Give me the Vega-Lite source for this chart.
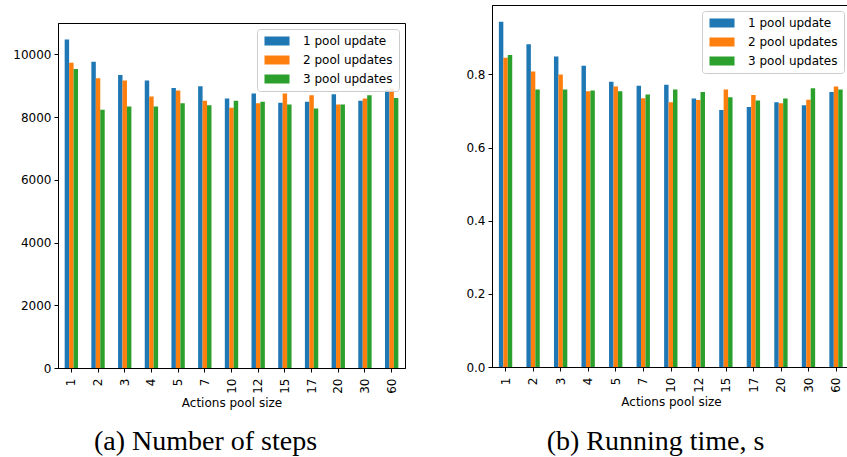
{
  "$schema": "https://vega.github.io/schema/vega-lite/v6.json",
  "padding": {"left": 5, "top": 4, "right": 0, "bottom": 0},
  "background": "white",
  "spacing": 20,
  "config": {
    "font": "DejaVu Sans",
    "view": {"stroke": "black", "strokeWidth": 1},
    "axis": {"labelFont": "DejaVu Sans", "labelFontSize": 12, "labelColor": "black", "titleFont": "DejaVu Sans", "titleFontSize": 12, "titleFontWeight": "normal", "titleColor": "black", "tickColor": "black", "domainColor": "black", "tickSize": 4, "grid": false, "labelPadding": 3},
    "legend": {"orient": "top-right", "offset": 6, "fillColor": "rgba(255,255,255,0.85)", "strokeColor": "#cccccc", "cornerRadius": 3, "padding": 6, "labelFont": "DejaVu Sans", "labelFontSize": 12, "labelColor": "black", "symbolType": "M-2.78,-1H2.78V1H-2.78Z", "symbolSize": 81, "symbolStrokeWidth": 0, "symbolOffset": 8, "labelOffset": 20, "rowPadding": 7},
    "title": {"font": "Liberation Serif", "fontSize": 28, "fontWeight": "normal", "color": "black"}
  },
  "datasets": {
    "d": [
      {"size": "1", "series": "1 pool update", "steps": 10470, "time": 0.944},
      {"size": "1", "series": "2 pool updates", "steps": 9730, "time": 0.846},
      {"size": "1", "series": "3 pool updates", "steps": 9530, "time": 0.853},
      {"size": "2", "series": "1 pool update", "steps": 9765, "time": 0.883},
      {"size": "2", "series": "2 pool updates", "steps": 9240, "time": 0.808},
      {"size": "2", "series": "3 pool updates", "steps": 8235, "time": 0.759},
      {"size": "3", "series": "1 pool update", "steps": 9345, "time": 0.849},
      {"size": "3", "series": "2 pool updates", "steps": 9165, "time": 0.800},
      {"size": "3", "series": "3 pool updates", "steps": 8340, "time": 0.759},
      {"size": "4", "series": "1 pool update", "steps": 9165, "time": 0.824},
      {"size": "4", "series": "2 pool updates", "steps": 8660, "time": 0.754},
      {"size": "4", "series": "3 pool updates", "steps": 8340, "time": 0.756},
      {"size": "5", "series": "1 pool update", "steps": 8930, "time": 0.780},
      {"size": "5", "series": "2 pool updates", "steps": 8845, "time": 0.767},
      {"size": "5", "series": "3 pool updates", "steps": 8440, "time": 0.754},
      {"size": "7", "series": "1 pool update", "steps": 8985, "time": 0.769},
      {"size": "7", "series": "2 pool updates", "steps": 8525, "time": 0.735},
      {"size": "7", "series": "3 pool updates", "steps": 8375, "time": 0.745},
      {"size": "10", "series": "1 pool update", "steps": 8590, "time": 0.772},
      {"size": "10", "series": "2 pool updates", "steps": 8300, "time": 0.724},
      {"size": "10", "series": "3 pool updates", "steps": 8525, "time": 0.759},
      {"size": "12", "series": "1 pool update", "steps": 8750, "time": 0.734},
      {"size": "12", "series": "2 pool updates", "steps": 8440, "time": 0.730},
      {"size": "12", "series": "3 pool updates", "steps": 8490, "time": 0.752},
      {"size": "15", "series": "1 pool update", "steps": 8460, "time": 0.703},
      {"size": "15", "series": "2 pool updates", "steps": 8750, "time": 0.759},
      {"size": "15", "series": "3 pool updates", "steps": 8405, "time": 0.738},
      {"size": "17", "series": "1 pool update", "steps": 8490, "time": 0.711},
      {"size": "17", "series": "2 pool updates", "steps": 8695, "time": 0.744},
      {"size": "17", "series": "3 pool updates", "steps": 8275, "time": 0.729},
      {"size": "20", "series": "1 pool update", "steps": 8725, "time": 0.724},
      {"size": "20", "series": "2 pool updates", "steps": 8405, "time": 0.721},
      {"size": "20", "series": "3 pool updates", "steps": 8405, "time": 0.734},
      {"size": "30", "series": "1 pool update", "steps": 8525, "time": 0.716},
      {"size": "30", "series": "2 pool updates", "steps": 8590, "time": 0.731},
      {"size": "30", "series": "3 pool updates", "steps": 8695, "time": 0.762},
      {"size": "60", "series": "1 pool update", "steps": 8870, "time": 0.752},
      {"size": "60", "series": "2 pool updates", "steps": 8900, "time": 0.767},
      {"size": "60", "series": "3 pool updates", "steps": 8610, "time": 0.759}
    ]
  },
  "resolve": {"legend": {"color": "independent"}, "scale": {"color": "independent"}},
  "hconcat": [
    {
      "title": {"text": "(a) Number of steps", "orient": "bottom", "anchor": "middle", "dx": 0, "offset": 19},
      "resolve": {"legend": {"color": "independent"}, "scale": {"color": "independent"}},
      "spacing": 16,
      "vconcat": [
        {
          "width": 347,
          "height": 1,
          "view": {"stroke": null},
          "data": {"values": []},
          "mark": {"type": "point"},
          "encoding": {}
        },
        {
          "width": 347,
          "height": 345,
          "data": {"name": "d"},
          "mark": {"type": "bar"},
          "encoding": {
            "x": {"field": "size", "type": "nominal", "sort": null, "scale": {"paddingInner": 0.5, "paddingOuter": 0.25}, "axis": {"title": "Actions pool size", "labelAngle": -90, "labelPadding": 6, "titlePadding": 4}},
            "xOffset": {"field": "series", "type": "nominal", "sort": null, "scale": {"paddingInner": 0, "paddingOuter": 0}},
            "y": {"field": "steps", "type": "quantitative", "scale": {"domain": [0, 11000], "nice": false}, "axis": {"title": null, "values": [0, 2000, 4000, 6000, 8000, 10000], "format": "d", "minExtent": 52, "maxExtent": 52}},
            "color": {"field": "series", "type": "nominal", "scale": {"domain": ["1 pool update", "2 pool updates", "3 pool updates"], "range": ["#1f77b4", "#ff7f0e", "#2ca02c"]}, "legend": {"title": null}}
          }
        }
      ]
    },
    {
      "title": {"text": "(b) Running time, s", "orient": "bottom", "anchor": "middle", "dx": 17, "offset": 20},
      "resolve": {"legend": {"color": "independent"}, "scale": {"color": "independent"}},
      "vconcat": [
        {
          "width": 358,
          "height": 362,
          "data": {"name": "d"},
          "mark": {"type": "bar"},
          "encoding": {
            "x": {"field": "size", "type": "nominal", "sort": null, "scale": {"paddingInner": 0.5, "paddingOuter": 0.25}, "axis": {"title": "Actions pool size", "labelAngle": -90, "labelPadding": 6, "titlePadding": 4}},
            "xOffset": {"field": "series", "type": "nominal", "sort": null, "scale": {"paddingInner": 0, "paddingOuter": 0}},
            "y": {"field": "time", "type": "quantitative", "scale": {"domain": [0, 0.99], "nice": false}, "axis": {"title": null, "values": [0, 0.2, 0.4, 0.6, 0.8], "format": ".1f", "minExtent": 65, "maxExtent": 65}},
            "color": {"field": "series", "type": "nominal", "scale": {"domain": ["1 pool update", "2 pool updates", "3 pool updates"], "range": ["#1f77b4", "#ff7f0e", "#2ca02c"]}, "legend": {"title": null}}
          }
        }
      ]
    }
  ]
}
